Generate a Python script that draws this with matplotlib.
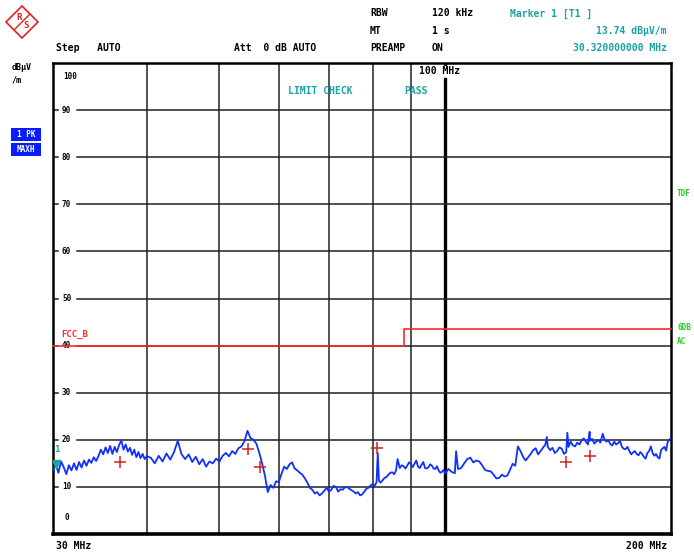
import matplotlib
matplotlib.use("Agg")
import matplotlib.pyplot as plt
from matplotlib.patches import Rectangle, Polygon

W, H = 694, 552

freq_mhz = [
    30.00, 30.25, 30.50, 30.75, 31.00, 31.25, 31.50, 31.75, 32.00, 32.25,
    32.50, 32.75, 33.00, 33.25, 33.50, 33.75, 34.00, 34.25, 34.50, 34.75,
    35.00, 35.25, 35.50, 35.75, 36.00, 36.25, 36.50, 36.75, 37.00, 37.25,
    37.50, 37.75, 38.00, 38.25, 38.50, 38.75, 39.00, 39.25, 39.50, 39.75,
    40.0, 40.5, 41.0, 41.5, 42.0, 42.5, 43.0, 43.5, 44.0, 44.5,
    45.0, 45.5, 46.0, 46.5, 47.0, 47.5, 48.0, 48.5, 49.0, 49.5,
    50.0, 50.5, 51.0, 51.5, 52.0, 52.5, 53.0, 53.5, 54.0, 54.5,
    55.0, 55.5, 56.0, 56.5, 57.0, 57.5, 58.0, 58.5, 59.0, 59.5,
    60, 61, 62, 63, 64, 65, 66, 67, 68, 69,
    70, 71, 72, 73, 74, 75, 76, 77, 78, 79,
    80, 81, 81.3, 81.6, 82, 83, 84, 85, 86, 86.4,
    87, 88, 89, 90, 91, 92, 93, 94, 95, 96,
    97, 98, 99, 100, 102, 103.4, 104, 106, 108, 110,
    112, 114, 116, 118, 120, 122, 124, 125, 126, 128,
    130, 132, 134, 136, 136.6, 138, 140, 142, 144, 145.5,
    146, 148, 150, 152, 154, 155.8, 156, 158, 160, 162.2,
    164, 166, 168, 170, 172, 174, 176, 178, 180, 182,
    184, 186, 188, 190, 192, 194, 196, 198, 200,
]
level_dbuv = [
    13.6, 14.8, 13.0, 15.4, 14.2, 12.7, 14.6, 13.5, 15.0, 13.6,
    15.3, 14.1, 15.6, 14.5, 15.8, 15.1, 16.3, 15.5, 16.6, 17.9,
    16.9, 18.4, 17.2, 18.7, 17.0, 18.5, 17.4, 18.9, 19.9, 17.9,
    19.0, 17.5, 18.3, 16.8, 17.9, 16.3, 17.4, 16.1, 17.0, 15.9,
    16.5, 16.2, 15.0, 16.6, 15.4, 17.1, 15.8, 17.4, 19.8, 17.0,
    15.9, 16.9, 15.3, 16.4, 14.8, 15.9, 14.3, 15.4, 15.0, 16.0,
    15.4, 16.6, 17.2, 16.5, 17.6, 17.0, 18.2, 18.6, 19.7, 21.9,
    20.4, 20.0, 19.2, 17.3, 15.0, 12.4, 8.9, 10.4, 9.8, 11.2,
    11.0, 14.3, 14.8, 13.9, 13.0, 11.8, 9.8, 8.6, 8.2, 9.2,
    9.0, 10.2, 9.0, 9.4, 10.0, 9.3, 8.6, 8.2, 9.0, 9.8,
    10.6, 11.0, 17.2, 11.3, 10.9, 11.9, 12.6, 13.1, 13.5, 15.9,
    14.0, 14.4, 14.5, 14.9, 14.9, 14.3, 14.7, 14.0, 14.2, 14.5,
    13.8, 13.5, 13.2, 12.8, 13.2, 17.6, 13.8, 15.0, 16.2, 15.6,
    14.6, 13.4, 12.6, 11.9, 12.2, 13.6, 14.5, 18.6, 17.6, 15.6,
    17.0, 18.2, 17.6, 19.0, 20.6, 17.8, 17.2, 18.4, 17.0, 21.5,
    18.5, 18.8, 19.4, 19.9, 19.6, 21.7, 19.8, 19.2, 20.0, 21.3,
    19.6, 19.1, 19.6, 19.3, 18.5, 18.0, 17.6, 17.3, 17.0, 17.4,
    16.4, 17.2, 18.6, 16.6, 16.3, 17.8, 18.5, 19.6, 20.4,
]

# extra sweep points (in between the ones above) for the noisy upper part
freq_extra = [
    60.5, 61.5, 62.5, 63.5, 64.5, 65.5, 66.5, 67.5, 68.5, 69.5,
    70.5, 71.5, 72.5, 73.5, 74.5, 75.5, 76.5, 77.5, 78.5, 79.5,
    80.5, 82.5, 83.5, 84.5, 85.5, 87.5, 88.5, 89.5, 90.5, 91.5,
    92.5, 93.5, 94.5, 95.5, 96.5, 97.5, 98.5, 99.5,
    101, 103, 105, 107, 109, 111, 113, 115, 117, 119,
    121, 123, 127, 129, 131, 133, 135, 137, 139, 141,
    143, 145, 147, 149, 151, 153, 155, 157, 159, 161,
    163, 165, 167, 169, 171, 173, 175, 177, 179, 181,
    183, 185, 187, 189, 191, 193, 195, 197, 199,
]
level_extra = [
    12.8, 13.8, 15.2, 13.5, 12.6, 10.9, 9.4, 8.9, 8.6, 9.8,
    9.4, 10.0, 9.5, 9.9, 9.6, 9.0, 8.9, 8.4, 9.6, 10.3,
    10.2, 11.4, 12.1, 13.0, 12.7, 14.6, 13.9, 15.2, 14.2, 15.6,
    14.0, 15.3, 13.9, 14.8, 13.9, 14.4, 13.0, 13.6,
    13.8, 12.9, 14.0, 15.9, 15.2, 15.4, 13.6, 13.3, 11.8, 12.6,
    12.4, 14.9, 16.4, 16.3, 17.8, 16.9, 18.3, 18.5, 18.3, 17.6,
    18.1, 17.4, 19.6, 18.6, 19.0, 20.3, 19.0, 20.2, 19.6, 19.4,
    20.1, 19.9, 18.8, 19.0, 19.8, 18.1, 18.5, 16.9, 17.6, 16.7,
    17.0, 16.0, 17.6, 17.2, 17.0, 16.0, 18.2, 17.7, 20.0,
]

# final measurement points (red crosses)
final_freq = [36.9, 54.6, 56.7, 81.2, 144.8, 155.9]
final_level = [15.3, 18.1, 14.3, 18.3, 15.3, 16.6]

# FCC class B limit
limit_freq = [30, 88, 88, 200]
limit_level = [40, 40, 43.5, 43.5]

marker_freq = 30.32
marker_level = 13.74

grid_freqs = [40, 50, 60, 70, 80, 90]
grid_levels = [10, 20, 30, 40, 50, 60, 70, 80, 90]

trace = sorted(zip(freq_mhz + freq_extra, level_dbuv + level_extra))
trace_f = [p[0] for p in trace]
trace_l = [p[1] for p in trace]

# ---- figure ----
fig = plt.figure(figsize=(W / 100, H / 100), dpi=100)
fig.patch.set_facecolor("white")


def fx(x):
    return x / W


def fy(y):
    return 1 - y / H


ax = fig.add_axes([fx(53), fy(534), fx(671) - fx(53), fy(63) - fy(534)])
ax.set_xscale("log")
ax.set_xlim(30, 200)
ax.set_ylim(0, 100)
ax.set_xticks([])
ax.set_yticks([])
ax.minorticks_off()
for s in ax.spines.values():
    s.set_linewidth(1.8)
    s.set_color("black")
ax.spines["bottom"].set_linewidth(2.6)

mono = dict(family="DejaVu Sans Mono", weight="bold")
teal = "#1aa3a3"
green = "#22cc22"
red = "#ff2a2a"

# grid
for f in grid_freqs:
    ax.axvline(f, color="#222222", lw=1.1, zorder=1)
ax.plot([100, 100], [0, 96.5], color="black", lw=2.4, zorder=1)
ax.plot([100, 100], [99, 100], color="black", lw=2.4, zorder=1)
for lv in grid_levels:
    ax.plot([0.039, 1], [lv / 100, lv / 100], transform=ax.transAxes,
            color="#222222", lw=1.1, zorder=1)
    ax.plot([0.0, 0.008], [lv / 100, lv / 100], transform=ax.transAxes,
            color="#222222", lw=1.1, zorder=1)
    ax.text(0.022, lv / 100, str(lv), transform=ax.transAxes, ha="center",
            va="center", fontsize=5.5, **mono)
ax.text(0.028, 0.98, "100", transform=ax.transAxes, ha="center", va="top",
        fontsize=5.5, **mono)
ax.text(0.022, 0.025, "0", transform=ax.transAxes, ha="center", va="bottom",
        fontsize=5.5, **mono)

# limit line
ax.plot(limit_freq, limit_level, color=red, lw=1.2, zorder=3, clip_on=False)
ax.text(0.014, 0.414, "FCC_B", transform=ax.transAxes, color=red,
        fontsize=6.5, va="bottom", **mono)

# trace
ax.plot(trace_f, trace_l, color="#1030ff", lw=1.3, zorder=4)
ax.plot(final_freq, final_level, "+", color="#d42020", ms=8, mew=1.1, zorder=5)

# marker 1
ax.plot([marker_freq], [marker_level + 1.2], marker="v", color=teal, ms=6,
        zorder=6)
ax.text(marker_freq, marker_level + 3.3, "1", color=teal, ha="center",
        va="bottom", fontsize=6.5, **mono)

ax.text(0.38, 0.94, "LIMIT CHECK", transform=ax.transAxes, color=teal,
        fontsize=7, va="center", **mono)
ax.text(0.568, 0.94, "PASS", transform=ax.transAxes, color=teal,
        fontsize=7, va="center", **mono)
ax.text(0.593, 0.982, "100 MHz", transform=ax.transAxes, va="center",
        fontsize=7, zorder=7,
        bbox=dict(facecolor="white", edgecolor="none", pad=0.5), **mono)

# header texts
hdr = dict(fontsize=7, va="center", **mono)
fig.text(fx(56), fy(48), "Step   AUTO", **hdr)
fig.text(fx(234), fy(48), "Att  0 dB AUTO", **hdr)
fig.text(fx(370), fy(13), "RBW", **hdr)
fig.text(fx(432), fy(13), "120 kHz", **hdr)
fig.text(fx(370), fy(31), "MT", **hdr)
fig.text(fx(432), fy(31), "1 s", **hdr)
fig.text(fx(370), fy(48), "PREAMP", **hdr)
fig.text(fx(432), fy(48), "ON", **hdr)
fig.text(fx(510), fy(14), "Marker 1 [T1 ]", color=teal, **hdr)
fig.text(fx(667), fy(31), "13.74 dBµV/m", color=teal, ha="right", **hdr)
fig.text(fx(667), fy(48), "30.320000000 MHz", color=teal, ha="right", **hdr)

fig.text(fx(12), fy(68), "dBµV", fontsize=6, va="center", **mono)
fig.text(fx(12), fy(80), "/m", fontsize=6, va="center", **mono)

for y0, label in [(128, "1 PK"), (143, "MAXH")]:
    fig.patches.append(Rectangle((fx(11), fy(y0 + 13)), fx(30), 13 / H,
                                 transform=fig.transFigure, facecolor="#0a1cff",
                                 edgecolor="none"))
    fig.text(fx(26), fy(y0 + 6.5), label, color="white", fontsize=5.5,
             ha="center", va="center", **mono)

fig.text(fx(56), fy(546), "30 MHz", **hdr)
fig.text(fx(667), fy(546), "200 MHz", ha="right", **hdr)

fig.text(fx(677), fy(193), "TDF", color=green, fontsize=5.5, va="center", **mono)
fig.text(fx(677), fy(327), "6DB", color=green, fontsize=5.5, va="center", **mono)
fig.text(fx(677), fy(342), "AC", color=green, fontsize=5.5, va="center", **mono)

# R&S logo
cx, cy, r = 22, 22, 16
logo = Polygon([(fx(cx), fy(cy - r)), (fx(cx + r), fy(cy)),
                (fx(cx), fy(cy + r)), (fx(cx - r), fy(cy))],
               closed=True, transform=fig.transFigure, facecolor="white",
               edgecolor="#e02020", lw=1.2)
fig.patches.append(logo)
fig.lines.append(plt.Line2D([fx(cx - 7), fx(cx + 8)], [fy(cy + 7), fy(cy - 8)],
                            transform=fig.transFigure, color="#e02020", lw=1.0))
fig.text(fx(cx - 3), fy(cy - 5), "R", color="#e02020", fontsize=6.5,
         ha="center", va="center", **mono)
fig.text(fx(cx + 4), fy(cy + 4), "S", color="#e02020", fontsize=6.5,
         ha="center", va="center", **mono)

fig.savefig("out.png", dpi=100, facecolor="white")
